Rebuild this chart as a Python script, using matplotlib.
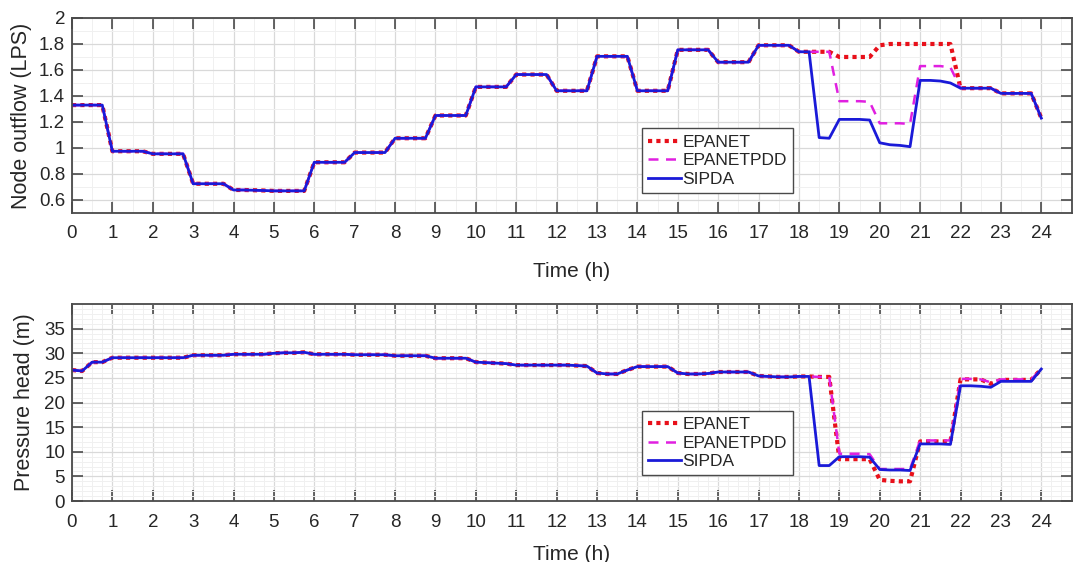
import numpy as np
import matplotlib
import matplotlib.pyplot as plt
from matplotlib.ticker import MultipleLocator

matplotlib.use('Agg')

plt.rcParams['font.family'] = ['Liberation Sans', 'DejaVu Sans']

# time axis, 15 min steps (h)
time = np.arange(0, 24.01, 0.25)

# node outflow (LPS): common part 0 .. 18.25 h
flow_common = [
    1.33, 1.33, 1.33, 1.33,
    0.975, 0.975, 0.975, 0.975,
    0.955, 0.955, 0.955, 0.955,
    0.725, 0.725, 0.725, 0.725,
    0.677, 0.677, 0.675, 0.673,
    0.670, 0.670, 0.670, 0.670,
    0.89, 0.89, 0.89, 0.89,
    0.965, 0.965, 0.965, 0.965,
    1.075, 1.075, 1.075, 1.075,
    1.25, 1.25, 1.25, 1.25,
    1.47, 1.47, 1.47, 1.47,
    1.565, 1.565, 1.565, 1.565,
    1.44, 1.44, 1.44, 1.44,
    1.705, 1.705, 1.705, 1.705,
    1.44, 1.44, 1.44, 1.44,
    1.755, 1.755, 1.755, 1.755,
    1.66, 1.66, 1.66, 1.66,
    1.79, 1.79, 1.79, 1.79,
    1.74, 1.74,
]
# 18.5 .. 24 h
flow_epanet_tail = [1.74, 1.74, 1.70, 1.70, 1.70, 1.70, 1.79, 1.80, 1.80, 1.80, 1.80, 1.80,
                    1.80, 1.80, 1.46, 1.46, 1.46, 1.46, 1.42, 1.42, 1.42, 1.42, 1.23]
flow_pdd_tail = [1.74, 1.74, 1.36, 1.36, 1.36, 1.355, 1.19, 1.19, 1.19, 1.185, 1.63, 1.63,
                 1.63, 1.62, 1.46, 1.46, 1.46, 1.46, 1.42, 1.42, 1.42, 1.42, 1.23]
flow_sipda_tail = [1.08, 1.075, 1.22, 1.22, 1.22, 1.215, 1.04, 1.025, 1.02, 1.01, 1.52, 1.52,
                   1.515, 1.50, 1.46, 1.46, 1.46, 1.46, 1.42, 1.42, 1.42, 1.42, 1.23]

# pressure head (m): common part 0 .. 18.25 h
head_common = [
    26.6, 26.4, 28.2, 28.2,
    29.1, 29.1, 29.1, 29.1,
    29.1, 29.1, 29.1, 29.1,
    29.6, 29.6, 29.6, 29.6,
    29.8, 29.8, 29.8, 29.8,
    30.0, 30.1, 30.1, 30.2,
    29.8, 29.8, 29.8, 29.8,
    29.7, 29.7, 29.7, 29.7,
    29.5, 29.5, 29.5, 29.5,
    29.0, 29.0, 29.0, 29.0,
    28.2, 28.1, 28.0, 27.9,
    27.6, 27.6, 27.6, 27.6,
    27.6, 27.6, 27.5, 27.4,
    26.0, 25.8, 25.8, 26.6,
    27.3, 27.3, 27.3, 27.3,
    26.0, 25.8, 25.8, 25.9,
    26.2, 26.2, 26.2, 26.2,
    25.4, 25.3, 25.2, 25.2,
    25.3, 25.3,
]
head_epanet_tail = [25.2, 25.2, 8.5, 8.5, 8.5, 8.5, 4.3, 4.1, 4.0, 4.0, 12.1, 12.1,
                    12.1, 12.1, 24.7, 24.7, 24.7, 23.8, 24.6, 24.6, 24.6, 24.6, 26.8]
head_pdd_tail = [25.2, 25.2, 9.6, 9.6, 9.6, 9.5, 6.5, 6.5, 6.5, 6.5, 12.3, 12.3,
                 12.3, 12.3, 24.8, 24.8, 24.7, 24.1, 24.7, 24.7, 24.7, 24.7, 26.8]
head_sipda_tail = [7.2, 7.2, 9.0, 9.0, 9.0, 8.9, 6.4, 6.3, 6.3, 6.2, 11.6, 11.6,
                   11.6, 11.5, 23.4, 23.4, 23.3, 23.1, 24.3, 24.3, 24.3, 24.3, 26.8]

labels = ['EPANET', 'EPANETPDD', 'SIPDA']

flow = [flow_common + flow_epanet_tail, flow_common + flow_pdd_tail, flow_common + flow_sipda_tail]
head = [head_common + head_epanet_tail, head_common + head_pdd_tail, head_common + head_sipda_tail]

styles = [
    dict(color='#e8101a', linestyle=(0, (1, 1)), linewidth=3.0),
    dict(color='#e020e0', linestyle=(0, (4, 3)), linewidth=1.8),
    dict(color='#1a1ad8', linestyle='-', linewidth=2.0),
]

text_color = '#262626'
frame_color = '#4a4a4a'

fig = plt.figure(figsize=(10.76, 5.62), dpi=100)
ax1 = fig.add_axes([0.0669, 0.621, 0.929, 0.347])
ax2 = fig.add_axes([0.0669, 0.1085, 0.929, 0.3505])


def style_axes(ax, ylim, yticks, xminor, yminor, ylabel, ylab_x, xlab_y, leg_y):
    ax.set_xlim(0, 24.75)
    ax.set_ylim(*ylim)
    ax.set_xticks(range(0, 25))
    ax.set_yticks(yticks)
    ax.xaxis.set_minor_locator(MultipleLocator(xminor))
    ax.yaxis.set_minor_locator(MultipleLocator(yminor))
    ax.grid(True, which='major', color='#d9d9d9', linewidth=0.9)
    ax.grid(True, which='minor', color='#f0f0f0', linewidth=0.7)
    ax.set_axisbelow(True)
    ax.tick_params(which='major', direction='in', length=8, width=1.2, color=frame_color,
                   top=True, right=True, labelsize=13.5, labelcolor=text_color)
    ax.tick_params(axis='x', which='major', pad=9)
    ax.tick_params(axis='y', which='major', pad=5)
    ax.tick_params(which='minor', length=0)
    for s in ax.spines.values():
        s.set_color(frame_color)
        s.set_linewidth(1.3)
    ax.set_xlabel('Time (h)', fontsize=15, color=text_color)
    ax.set_ylabel(ylabel, fontsize=15.5, color=text_color)
    ax.xaxis.set_label_coords(0.5, xlab_y)
    ax.yaxis.set_label_coords(ylab_x, 0.5)
    leg = ax.legend(loc='lower left', bbox_to_anchor=(0.57, leg_y), fontsize=12.5,
                    frameon=True, fancybox=False, framealpha=1, edgecolor=frame_color,
                    handlelength=1.9, handletextpad=0.1, labelspacing=0.2,
                    borderpad=0.35, borderaxespad=0)
    leg.get_frame().set_linewidth(1.0)
    for t in leg.get_texts():
        t.set_color(text_color)


for series, st, lab in zip(flow, styles, labels):
    ax1.plot(time, series, label=lab, **st)
for series, st, lab in zip(head, styles, labels):
    ax2.plot(time, series, label=lab, **st)

style_axes(ax1, (0.5, 2.0), [0.6, 0.8, 1.0, 1.2, 1.4, 1.6, 1.8, 2.0], 0.5, 0.1,
           'Node outflow (LPS)', -0.040, -0.25, 0.103)
ax1.set_yticklabels(['0.6', '0.8', '1', '1.2', '1.4', '1.6', '1.8', '2'])
style_axes(ax2, (0, 40), [0, 5, 10, 15, 20, 25, 30, 35], 0.25, 1,
           'Pressure head (m)', -0.037, -0.223, 0.13)

fig.savefig('out.png', dpi=100)
